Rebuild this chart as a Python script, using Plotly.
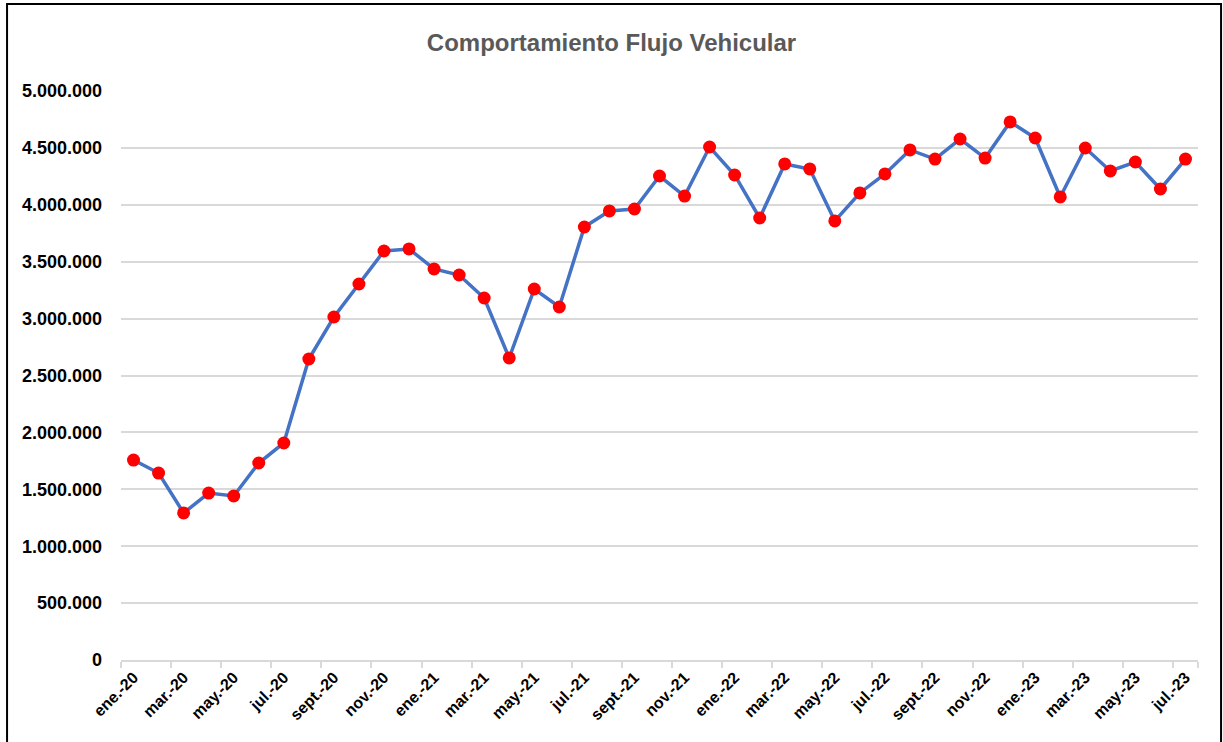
import plotly.graph_objects as go

months = ["ene.-20","feb.-20","mar.-20","abr.-20","may.-20","jun.-20","jul.-20","ago.-20","sept.-20","oct.-20","nov.-20","dic.-20",
          "ene.-21","feb.-21","mar.-21","abr.-21","may.-21","jun.-21","jul.-21","ago.-21","sept.-21","oct.-21","nov.-21","dic.-21",
          "ene.-22","feb.-22","mar.-22","abr.-22","may.-22","jun.-22","jul.-22","ago.-22","sept.-22","oct.-22","nov.-22","dic.-22",
          "ene.-23","feb.-23","mar.-23","abr.-23","may.-23","jun.-23","jul.-23"]

flujo = [1757000, 1643000, 1292000, 1467000, 1441000, 1731000, 1907000, 2645000, 3014000, 3304000, 3594000, 3612000,
         3436000, 3383000, 3181000, 2654000, 3260000, 3102000, 3805000, 3946000, 3963000, 4253000, 4077000, 4508000,
         4262000, 3884000, 4359000, 4315000, 3858000, 4104000, 4271000, 4482000, 4402000, 4578000, 4411000, 4728000,
         4587000, 4069000, 4499000, 4297000, 4376000, 4139000, 4402000]

y_ticks = [0, 500000, 1000000, 1500000, 2000000, 2500000, 3000000, 3500000, 4000000, 4500000, 5000000]
y_ticktext = ["0", "500.000", "1.000.000", "1.500.000", "2.000.000", "2.500.000", "3.000.000",
              "3.500.000", "4.000.000", "4.500.000", "5.000.000"]

label_months = months[::2]

fig = go.Figure()
fig.add_trace(go.Scatter(
    x=months, y=flujo, mode="lines+markers",
    line=dict(color="#4472C4", width=3.5),
    marker=dict(color="#FF0000", size=13, line=dict(width=0)),
    hoverinfo="x+y",
))

font_family = "Liberation Sans, Arial, sans-serif"

fig.update_layout(
    width=1223, height=742,
    margin=dict(l=121, r=25, t=91, b=82),
    paper_bgcolor="white", plot_bgcolor="white",
    showlegend=False,
    title=dict(text="<b>Comportamiento Flujo Vehicular</b>", x=0.5, xanchor="center",
               y=0.942, yanchor="middle",
               font=dict(family=font_family, size=24, color="#595959")),
    font=dict(family=font_family, color="#000000"),
)

fig.update_xaxes(
    type="category", categoryorder="array", categoryarray=months,
    range=[-0.5, len(months) - 0.5],
    tickmode="array", tickvals=label_months, ticktext=["<b>%s</b>" % m for m in label_months],
    tickson="boundaries",
    tickangle=-45, tickfont=dict(size=16, color="#000000", family=font_family),
    showgrid=False, zeroline=False,
    showline=True, linecolor="#D9D9D9", linewidth=1.5,
    ticks="outside", ticklen=6, tickcolor="#D9D9D9", tickwidth=1.5,
)
fig.update_yaxes(
    range=[0, 5000000],
    tickmode="array", tickvals=y_ticks, ticktext=["<b>%s</b>" % t for t in y_ticktext],
    tickfont=dict(size=18, color="#000000", family=font_family),
    showgrid=True, gridcolor="#D9D9D9", gridwidth=1.5,
    zeroline=False, showline=False, ticks="", ticklabelstandoff=18,
)

fig.add_shape(type="rect", xref="paper", yref="paper",
              x0=-0.1058, x1=1.0214, y0=-0.16, y1=1.1529,
              line=dict(color="black", width=2), fillcolor="rgba(0,0,0,0)", layer="below")

fig.write_html("out.html", config={"displayModeBar": False},
               post_script="document.body.style.margin='0';document.body.style.overflow='hidden';")
